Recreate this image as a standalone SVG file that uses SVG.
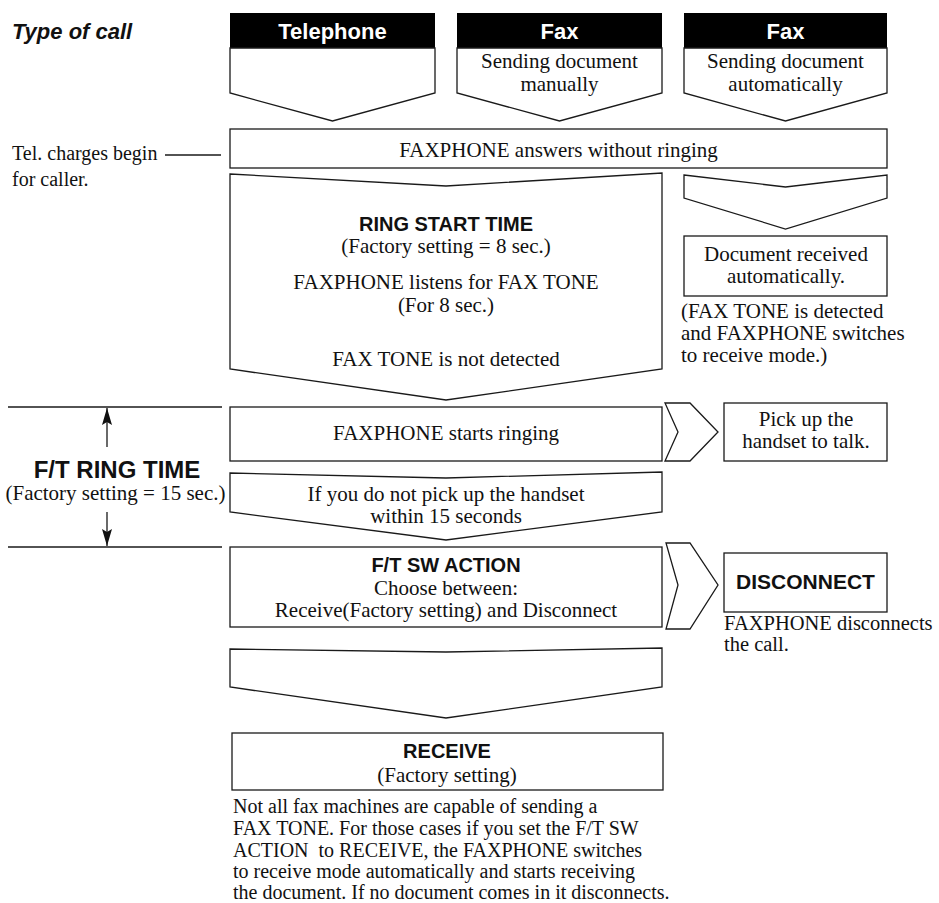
<svg xmlns="http://www.w3.org/2000/svg" width="939" height="903" viewBox="0 0 939 903">
<style>
.bg{fill:#fff}
.box{fill:#fff;stroke:#1a1a1a;stroke-width:1.3;stroke-linejoin:miter}
.band{fill:#000}
.ln{stroke:#1a1a1a;stroke-width:1.3;fill:none}
.s{font-family:"Liberation Serif","Times New Roman",serif;font-size:21px;fill:#111}
.sl{font-family:"Liberation Serif","Times New Roman",serif;font-size:20px;fill:#111}
.b{font-family:"Liberation Sans",Arial,sans-serif;font-weight:bold;font-size:20px;fill:#111}
.hd{font-family:"Liberation Sans",Arial,sans-serif;font-weight:bold;font-size:22px;fill:#fff}
.c{text-anchor:middle}
</style>
<defs>
<marker id="ah" viewBox="0 0 17 10" refX="17" refY="5" markerWidth="17" markerHeight="10" markerUnits="userSpaceOnUse" orient="auto">
<path d="M0,0 L17,5 L0,10 L3,5 z" fill="#111"/>
</marker>
</defs>
<rect class="bg" x="0" y="0" width="939" height="903"/>

<g id="title">
<text x="12" y="39" style="font-family:'Liberation Sans',Arial,sans-serif;font-weight:bold;font-style:italic;font-size:22px;fill:#111">Type of call</text>
</g>

<g id="hdr-telephone">
<rect class="band" x="230" y="13" width="205" height="35"/>
<polygon class="box" points="230,48 435,48 435,93 332.5,121 230,93"/>
<text class="hd c" x="332.5" y="39">Telephone</text>
</g>

<g id="hdr-fax-manual">
<rect class="band" x="457" y="13" width="205" height="35"/>
<polygon class="box" points="457,48 662,48 662,93 559.5,121 457,93"/>
<text class="hd c" x="559.5" y="39">Fax</text>
<text class="s c" x="559.5" y="68">Sending document</text>
<text class="s c" x="559.5" y="91">manually</text>
</g>

<g id="hdr-fax-auto">
<rect class="band" x="684" y="13" width="203" height="35"/>
<polygon class="box" points="684,48 887,48 887,93 785.5,121 684,93"/>
<text class="hd c" x="785.5" y="39">Fax</text>
<text class="s c" x="785.5" y="68">Sending document</text>
<text class="s c" x="785.5" y="91">automatically</text>
</g>

<g id="tel-charges">
<text class="sl" x="12" y="160">Tel. charges begin</text>
<text class="sl" x="12" y="186">for caller.</text>
</g>

<g id="answers">
<rect class="box" x="230" y="129" width="657" height="39"/>
<text class="s c" x="558.5" y="157">FAXPHONE answers without ringing</text>
</g>

<g id="ring-start">
<polygon class="box" points="230,174 446,186 662,173 662,369 446,400 230,369"/>
<text class="b c" x="446" y="231">RING START TIME</text>
<text class="s c" x="446" y="253">(Factory setting = 8 sec.)</text>
<text class="s c" x="446" y="289">FAXPHONE listens for FAX TONE</text>
<text class="s c" x="446" y="312">(For 8 sec.)</text>
<text class="s c" x="446" y="366">FAX TONE is not detected</text>
</g>

<g id="auto-arrow">
<polygon class="box" points="684,175 785.5,187 887,175 887,198 785.5,229 684,198"/>
</g>

<g id="doc-received">
<rect class="box" x="684" y="236" width="203" height="60"/>
<text class="s c" x="786" y="261">Document received</text>
<text class="s c" x="786" y="283">automatically.</text>
<text class="s" x="681" y="318">(FAX TONE is detected</text>
<text class="s" x="681" y="340">and FAXPHONE switches</text>
<text class="s" x="681" y="362">to receive mode.)</text>
</g>

<g id="ft-ring-time">
<text class="b c" x="117" y="478" style="font-size:24px">F/T RING TIME</text>
<text class="s c" x="115.5" y="500">(Factory setting = 15 sec.)</text>
</g>

<g id="starts-ringing">
<rect class="box" x="230" y="407" width="432" height="54"/>
<text class="s c" x="446" y="440">FAXPHONE starts ringing</text>
</g>

<g id="pick-up">
<rect class="box" x="724" y="403" width="163" height="58"/>
<text class="s c" x="806" y="426">Pick up the</text>
<text class="s c" x="806" y="448">handset to talk.</text>
</g>

<g id="no-pickup">
<polygon class="box" points="230,473 446,478 662,472 662,512 446,540 230,512"/>
<text class="s c" x="446" y="501">If you do not pick up the handset</text>
<text class="s c" x="446" y="523">within 15 seconds</text>
</g>

<g id="ft-sw-action">
<rect class="box" x="230" y="547" width="432" height="80"/>
<text class="b c" x="446" y="572">F/T SW ACTION</text>
<text class="s c" x="446" y="595">Choose between:</text>
<text class="s c" x="446" y="617">Receive(Factory setting) and Disconnect</text>
</g>

<g id="disconnect">
<rect class="box" x="724" y="553" width="163" height="59"/>
<text class="b c" x="805.5" y="589" style="font-size:21px">DISCONNECT</text>
<text class="s" x="724" y="630" style="font-size:20.5px">FAXPHONE disconnects</text>
<text class="s" x="724" y="651" style="font-size:20.5px">the call.</text>
</g>

<g id="to-receive">
<polygon class="box" points="230,649 446,652 662,648 662,687 446,718 230,687"/>
</g>

<g id="receive">
<rect class="box" x="232" y="733" width="431" height="57"/>
<text class="b c" x="447" y="758">RECEIVE</text>
<text class="s c" x="447" y="782">(Factory setting)</text>
</g>

<g id="note">
<text class="sl" x="233" y="813">Not all fax machines are capable of sending a</text>
<text class="sl" x="233" y="835">FAX TONE. For those cases if you set the F/T SW</text>
<text class="sl" x="233" y="857" xml:space="preserve">ACTION  to RECEIVE, the FAXPHONE switches</text>
<text class="sl" x="233" y="878">to receive mode automatically and starts receiving</text>
<text class="sl" x="233" y="899">the document. If no document comes in it disconnects.</text>
</g>

<g id="connectors">
<line class="ln" x1="165" y1="155" x2="221" y2="155"/>
<line class="ln" x1="8" y1="407" x2="222" y2="407"/>
<line class="ln" x1="8" y1="547" x2="222" y2="547"/>
<line class="ln" x1="107" y1="447" x2="107" y2="408" marker-end="url(#ah)"/>
<line class="ln" x1="107" y1="512" x2="107" y2="546" marker-end="url(#ah)"/>
<polygon class="box" points="665,403 690,403 718,432 690,461 665,461 678,432"/>
<polygon class="box" points="666,543 690,543 718,585 690,629 666,629 678,585"/>
</g>
</svg>
